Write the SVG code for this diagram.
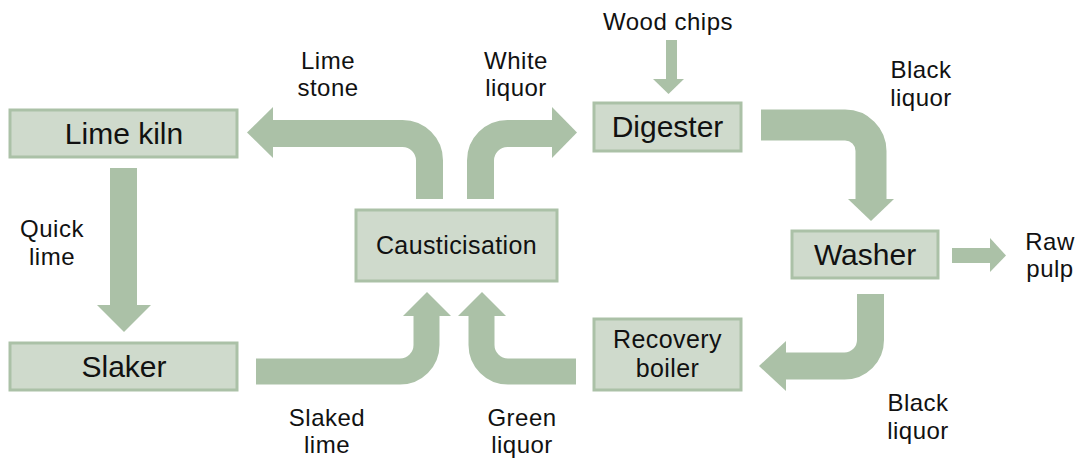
<svg xmlns="http://www.w3.org/2000/svg" width="1083" height="460" viewBox="0 0 1083 460">
<style>
.box{fill:#cfdacc;stroke:#abc1a7;stroke-width:3}
.t{font-family:"Liberation Sans",Arial,sans-serif;fill:#111;text-anchor:middle}
.big{font-size:30px}
.mid{font-size:25px;letter-spacing:0.4px}
.lbl{font-size:24px;letter-spacing:0.5px}
.af{fill:#abc1a7}
.as{fill:none;stroke:#abc1a7}
</style>
<rect width="1083" height="460" fill="#ffffff"/>
<g id="connectors">
  <path class="as" stroke-width="27" d="M429.5,199 V160.5 A27,27 0 0 0 402.5,133.5 H272"/>
  <polygon class="af" points="273,107 247,132.5 273,158"/>
  <path class="as" stroke-width="27" d="M480.5,199 V160.5 A27,27 0 0 1 507.5,133.5 H553"/>
  <polygon class="af" points="552,107 577,132.5 552,158"/>
  <path class="as" stroke-width="31" d="M761,125 H845 A26,26 0 0 1 871,151 V200"/>
  <polygon class="af" points="848,199 894,199 871,221"/>
  <path class="as" stroke-width="27" d="M870.5,294 V340 A26,26 0 0 1 844.5,366 H785"/>
  <polygon class="af" points="786,341 759,366 786,391"/>
  <path class="as" stroke-width="26" d="M256,371.5 H400 A26.5,26.5 0 0 0 426.5,345 V315"/>
  <polygon class="af" points="403,316 451,316 427,292"/>
  <path class="as" stroke-width="26" d="M576,371.5 H508 A26.5,26.5 0 0 1 481.5,345 V315"/>
  <polygon class="af" points="458,316 506,316 482,292"/>
  <rect class="af" x="110" y="168" width="27" height="138"/>
  <polygon class="af" points="97,305 151,305 124,332"/>
  <rect class="af" x="666" y="40" width="11" height="40"/>
  <polygon class="af" points="653,79 684,79 668.5,94"/>
  <rect class="af" x="952" y="248" width="39" height="15"/>
  <polygon class="af" points="990,238 1006,255.5 990,272"/>
</g>
<g id="lime-kiln"><rect class="box" x="10" y="110" width="227" height="47"/><text class="t big" x="124" y="144">Lime kiln</text></g>
<g id="slaker"><rect class="box" x="10" y="343" width="227" height="47"/><text class="t big" x="124" y="377">Slaker</text></g>
<g id="causticisation"><rect class="box" x="356" y="210" width="201" height="71"/><text class="t mid" x="456.5" y="254">Causticisation</text></g>
<g id="digester"><rect class="box" x="594" y="103" width="147" height="48"/><text class="t big" x="667.5" y="137">Digester</text></g>
<g id="washer"><rect class="box" x="792" y="231" width="146" height="47"/><text class="t big" x="865" y="265">Washer</text></g>
<g id="recovery-boiler"><rect class="box" x="594" y="319" width="147" height="71"/><text class="t mid" x="667.5" y="348">Recovery</text><text class="t mid" x="667.5" y="377">boiler</text></g>
<g id="labels">
  <text class="t lbl" x="328" y="69">Lime</text><text class="t lbl" x="328" y="96">stone</text>
  <text class="t lbl" x="516" y="69">White</text><text class="t lbl" x="516" y="96">liquor</text>
  <text class="t lbl" x="668" y="30">Wood chips</text>
  <text class="t lbl" x="921" y="78">Black</text><text class="t lbl" x="921" y="106">liquor</text>
  <text class="t lbl" x="52" y="237">Quick</text><text class="t lbl" x="52" y="265">lime</text>
  <text class="t lbl" x="1050" y="250">Raw</text><text class="t lbl" x="1050" y="277">pulp</text>
  <text class="t lbl" x="327" y="426">Slaked</text><text class="t lbl" x="327" y="453">lime</text>
  <text class="t lbl" x="522" y="426">Green</text><text class="t lbl" x="522" y="453">liquor</text>
  <text class="t lbl" x="918" y="411">Black</text><text class="t lbl" x="918" y="439">liquor</text>
</g>
</svg>
